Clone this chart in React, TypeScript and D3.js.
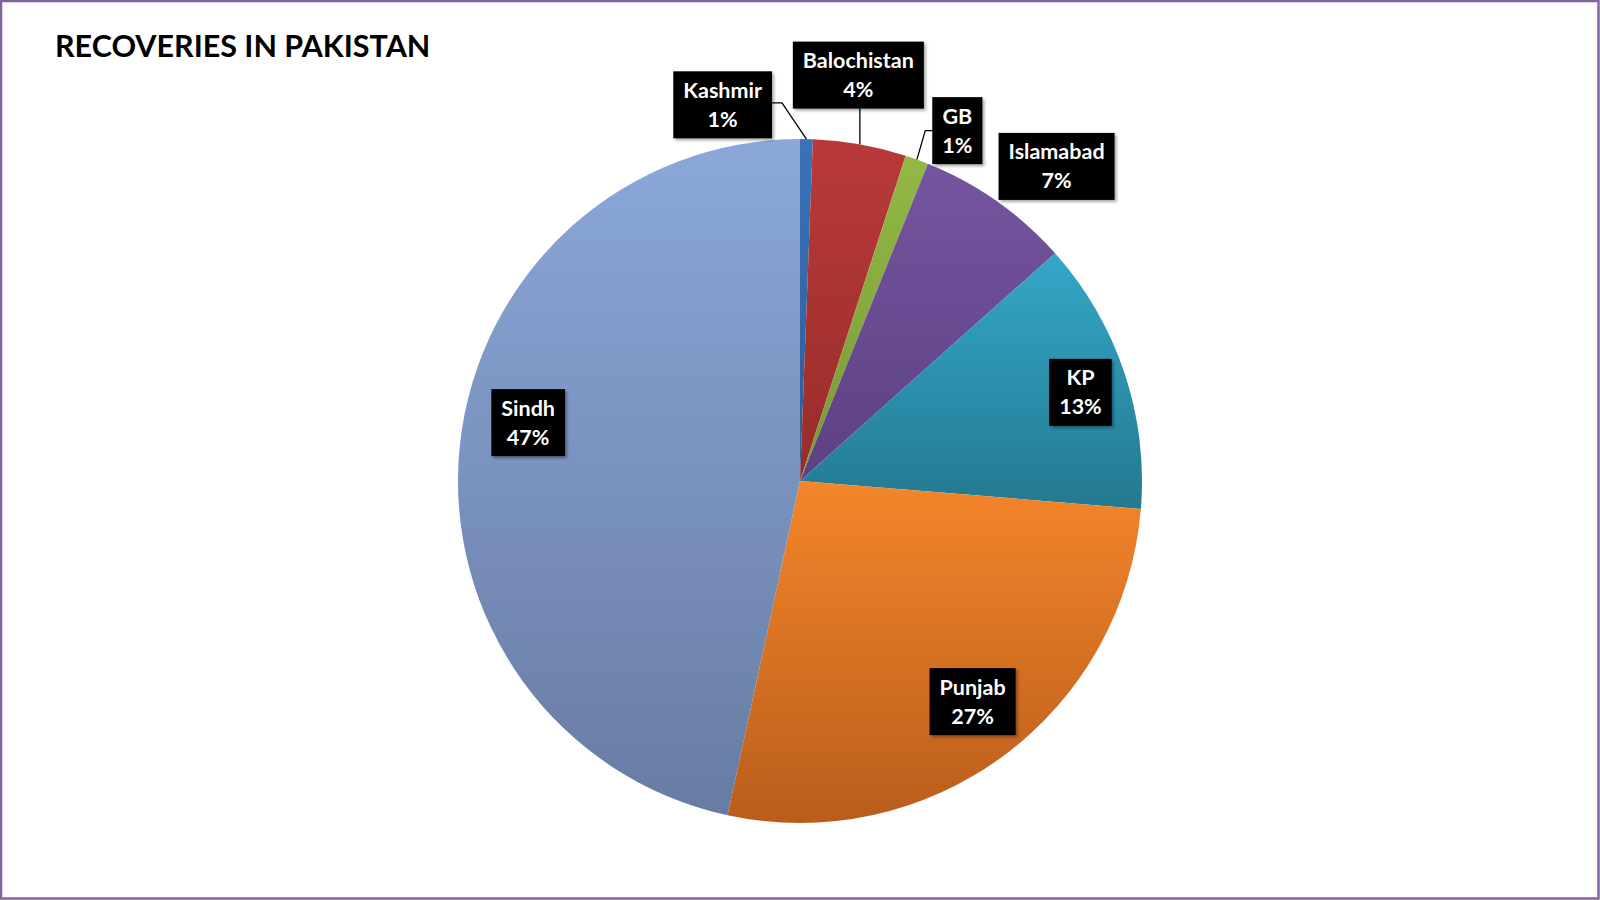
import React from "react";
import * as d3 from "d3";

const regions = ["Kashmir", "Balochistan", "GB", "Islamabad", "KP", "Punjab", "Sindh"];
const shares = [0.6, 4.4, 1.1, 7.3, 12.9, 27.1, 46.6];
const topColors = ["#3b72b8", "#b93a38", "#93b845", "#76559f", "#34a7c8", "#f4862a", "#8ba8d9"];
const bottomColors = ["#2b5b98", "#982c2b", "#779a36", "#5c4182", "#237990", "#b95d1c", "#677ca3"];

// label placement: radius as share of pie radius, angle nudge in degrees
const LABEL_LAYOUT = [
  { r: 1.123, da: -12.7, outside: true },
  { r: 1.199, da: -1.9, outside: true },
  { r: 1.123, da: 4.2, outside: true },
  { r: 1.187, da: 4.1, outside: false },
  { r: 0.86, da: 1, outside: false },
  { r: 0.819, da: -1.5, outside: false },
  { r: 0.813, da: 6, outside: false },
];

const W = 1600;
const H = 900;
const CX = 800;
const CY = 481;
const R = 342;
const FONT = "Lato, 'Open Sans', sans-serif";

const App = () => {
  const ref = React.useRef<SVGSVGElement>(null);

  React.useEffect(() => {
    document.body.style.margin = "0";
    const svg = d3.select(ref.current!);
    svg.selectAll("*").remove();

    const data = regions.map((name, i) => ({ name, value: shares[i], i }));
    const total = d3.sum(shares);

    const defs = svg.append("defs");
    data.forEach((d) => {
      const g = defs
        .append("linearGradient")
        .attr("id", `grad-${d.i}`)
        .attr("x1", 0)
        .attr("y1", 0)
        .attr("x2", 0)
        .attr("y2", 1);
      g.append("stop").attr("offset", "0%").attr("stop-color", topColors[d.i]);
      g.append("stop").attr("offset", "100%").attr("stop-color", bottomColors[d.i]);
    });
    const shadow = defs
      .append("filter")
      .attr("id", "shadow")
      .attr("x", "-20%")
      .attr("y", "-20%")
      .attr("width", "150%")
      .attr("height", "150%");
    shadow
      .append("feDropShadow")
      .attr("dx", 2)
      .attr("dy", 2)
      .attr("stdDeviation", 1.8)
      .attr("flood-color", "#000")
      .attr("flood-opacity", 0.35);

    svg
      .append("rect")
      .attr("x", 0)
      .attr("y", 0)
      .attr("width", W)
      .attr("height", H)
      .attr("fill", "#fff");
    svg
      .append("rect")
      .attr("x", 1)
      .attr("y", 1)
      .attr("width", W - 2.5)
      .attr("height", H - 2.5)
      .attr("fill", "none")
      .attr("stroke", "#8064a2")
      .attr("stroke-width", 2.5);

    svg
      .append("text")
      .attr("x", 55)
      .attr("y", 57)
      .attr("font-family", FONT)
      .attr("font-weight", 700)
      .attr("font-size", 30.5)
      .attr("fill", "#000")
      .text("RECOVERIES IN PAKISTAN");

    const pie = d3
      .pie<{ name: string; value: number; i: number }>()
      .sort(null)
      .value((d) => d.value);
    const arcs = pie(data);
    const arc = d3
      .arc<d3.PieArcDatum<{ name: string; value: number; i: number }>>()
      .innerRadius(0)
      .outerRadius(R);

    const pieG = svg.append("g").attr("transform", `translate(${CX},${CY})`);
    pieG
      .selectAll("path.slice")
      .data(arcs)
      .enter()
      .append("path")
      .attr("class", "slice")
      .attr("d", arc)
      .attr("fill", (d) => `url(#grad-${d.data.i})`);

    const polar = (angle: number, r: number) => [
      CX + r * Math.sin(angle),
      CY - r * Math.cos(angle),
    ];

    const labelG = svg.append("g");
    arcs.forEach((a) => {
      const lay = LABEL_LAYOUT[a.data.i];
      const mid = (a.startAngle + a.endAngle) / 2;
      const [lx, ly] = polar(mid + (lay.da * Math.PI) / 180, lay.r * R);
      const pct = `${Math.round((a.data.value / total) * 100)}%`;

      const g = labelG.append("g");
      const rect = g.append("rect").attr("fill", "#000").attr("filter", "url(#shadow)");
      const t1 = g
        .append("text")
        .attr("x", lx)
        .attr("y", ly - 7)
        .attr("text-anchor", "middle")
        .attr("font-family", FONT)
        .attr("font-weight", 700)
        .attr("font-size", 21.5)
        .attr("fill", "#fff")
        .text(a.data.name);
      const t2 = g
        .append("text")
        .attr("x", lx)
        .attr("y", ly + 22)
        .attr("text-anchor", "middle")
        .attr("font-family", FONT)
        .attr("font-weight", 700)
        .attr("font-size", 21.5)
        .attr("fill", "#fff")
        .text(pct);
      const tw = Math.max(
        (t1.node() as SVGTextElement).getComputedTextLength(),
        (t2.node() as SVGTextElement).getComputedTextLength()
      );
      const bw = tw + 20;
      const bh = 67;
      const bx = lx - bw / 2;
      const by = ly - bh / 2;
      rect.attr("x", bx).attr("y", by).attr("width", bw).attr("height", bh);

      if (lay.outside) {
        const [px, py] = polar(mid, R);
        let pts: [number, number][];
        if (px >= bx && px <= bx + bw) {
          pts = [
            [px, py],
            [px, by + bh],
          ];
        } else if (px > bx + bw) {
          pts = [
            [px, py],
            [bx + bw + 10, ly - 2],
            [bx + bw, ly - 2],
          ];
        } else {
          pts = [
            [px, py],
            [bx - 7, ly],
            [bx, ly],
          ];
        }
        labelG
          .insert("polyline", ":first-child")
          .attr("points", pts.map((p) => p.join(",")).join(" "))
          .attr("fill", "none")
          .attr("stroke", "#000")
          .attr("stroke-width", 1.3);
      }
    });
  }, []);

  return <svg ref={ref} width={W} height={H} style={{ display: "block" }} />;
};

export default App;
